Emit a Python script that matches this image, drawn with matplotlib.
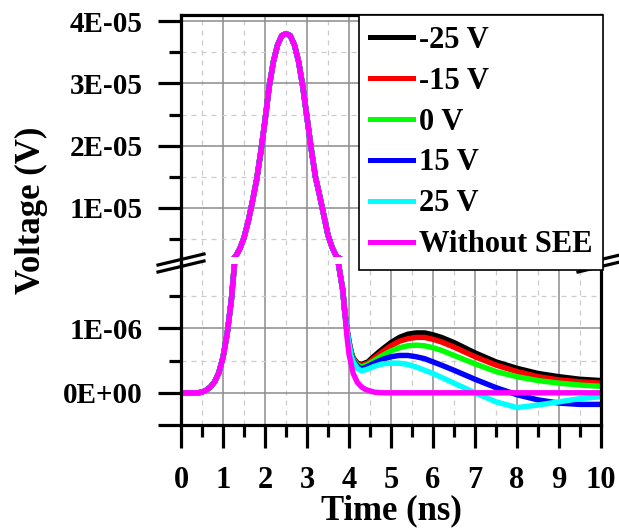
import matplotlib
matplotlib.use("Agg")
import matplotlib.pyplot as plt
from matplotlib.lines import Line2D

# ---------------- data (time in ns, voltage in V) ----------------
pulse_t = [0.0, 0.4, 0.5, 0.6, 0.7, 0.8, 0.9, 1.0, 1.1, 1.2, 1.3, 1.4, 1.5, 1.6,
           1.7, 1.8, 1.9, 2.0, 2.1, 2.2, 2.3, 2.4, 2.5, 2.6, 2.7, 2.8, 2.9, 3.0,
           3.1, 3.2, 3.3, 3.4, 3.5, 3.6, 3.7, 3.75, 3.8, 3.85, 3.9]
pulse_v = [0.0, 0.0, 0.01e-6, 0.04e-6, 0.09e-6, 0.17e-6, 0.31e-6, 0.55e-6, 0.92e-6,
           1.45e-6, 2.2e-6, 3.4e-6, 5.2e-6, 7.8e-6, 1.1e-5, 1.45e-5, 1.9e-5, 2.4e-5,
           2.95e-5, 3.35e-5, 3.62e-5, 3.77e-5, 3.8e-5, 3.77e-5, 3.62e-5, 3.35e-5,
           2.95e-5, 2.45e-5, 1.95e-5, 1.5e-5, 1.2e-5, 8.8e-6, 5.6e-6, 3.6e-6, 2.2e-6,
           2.0e-6, 1.8e-6, 1.6e-6, 1.25e-6]

# tail of the reference pulse (without SEE)
ref_tail_t = [3.95, 4.0, 4.1, 4.2, 4.3, 4.4, 4.5, 4.6, 4.8, 10.0]
ref_tail_v = [0.88e-6, 0.6e-6, 0.3e-6, 0.16e-6, 0.09e-6, 0.05e-6, 0.03e-6, 0.01e-6, 0.0, 0.0]

# tails of the SEE curves (values in microvolt units * 1e-6)
tail_t = [3.95, 4.0, 4.05, 4.1, 4.2, 4.3, 4.45, 4.6, 4.8, 5.0, 5.2, 5.4, 5.6, 5.8,
          6.0, 6.2, 6.5, 7.0, 7.5, 8.0, 8.5, 9.0, 9.5, 10.0]
tail_m25 = [1.0, 0.8, 0.64, 0.54, 0.46, 0.44, 0.48, 0.57, 0.68, 0.78, 0.86, 0.91,
            0.93, 0.93, 0.9, 0.86, 0.78, 0.62, 0.48, 0.38, 0.3, 0.25, 0.21, 0.19]
tail_m15 = [1.0, 0.79, 0.63, 0.53, 0.45, 0.42, 0.46, 0.54, 0.64, 0.73, 0.8, 0.84,
            0.86, 0.86, 0.83, 0.79, 0.71, 0.56, 0.43, 0.33, 0.25, 0.2, 0.17, 0.15]
tail_0 = [0.99, 0.78, 0.62, 0.52, 0.43, 0.40, 0.44, 0.5, 0.58, 0.65, 0.7, 0.73,
          0.74, 0.73, 0.7, 0.66, 0.58, 0.45, 0.33, 0.25, 0.19, 0.15, 0.12, 0.1]
tail_p15 = [0.98, 0.77, 0.6, 0.5, 0.41, 0.37, 0.41, 0.46, 0.52, 0.56, 0.58, 0.58,
            0.56, 0.53, 0.48, 0.43, 0.35, 0.21, 0.08, -0.03, -0.11, -0.16, -0.18, -0.18]
tail_p25 = [0.97, 0.76, 0.58, 0.48, 0.38, 0.34, 0.37, 0.41, 0.45, 0.46, 0.46, 0.44,
            0.4, 0.35, 0.3, 0.24, 0.15, 0.0, -0.14, -0.23, -0.19, -0.14, -0.09, -0.06]

labels = ["-25 V", "-15 V", "0 V", "15 V", "25 V", "Without SEE"]
colors = ["#000000", "#FF0000", "#00FF00", "#0000FF", "#00FFFF", "#FF00FF"]
tails = [tail_m25, tail_m15, tail_0, tail_p15, tail_p25]

upper_ticks = [1e-5, 2e-5, 3e-5, 4e-5]
upper_labels = ["1E-05", "2E-05", "3E-05", "4E-05"]
lower_ticks = [-0.5e-6, 0.0, 1e-6]
lower_labels = ["", "0E+00", "1E-06"]
x_ticks = list(range(0, 11))
x_labels = [str(v) for v in x_ticks]

series = []
for tl in tails:
    series.append((pulse_t + tail_t, pulse_v + [v * 1e-6 for v in tl]))
series.append((pulse_t + ref_tail_t, pulse_v + ref_tail_v))

# ---------------- figure ----------------
plt.rcParams['font.family'] = ['Liberation Serif', 'DejaVu Serif']
plt.rcParams['font.weight'] = 'bold'

W_PX, H_PX = 619, 531
fig = plt.figure(figsize=(W_PX / 100, H_PX / 100), dpi=100)

def fx(px):
    return px / W_PX

def fy(px):
    return 1 - px / H_PX

L, R = 181, 601
TOP, UB, LT, BOT = 15, 257, 264, 425

grid_major = dict(color="#8c8c8c", linewidth=1.1, linestyle="-")
grid_minor = dict(color="#cccccc", linewidth=0.9, linestyle=(0, (4, 4)))

# background axes for vertical grid lines (continuous through the break)
axbg = fig.add_axes([fx(L), fy(BOT), fx(R) - fx(L), fy(TOP) - fy(BOT)], zorder=0)
axbg.set_xlim(0, 10)
axbg.set_ylim(0, 1)
for xv in x_ticks:
    axbg.axvline(xv, **grid_major)
for xv in [i + 0.5 for i in range(10)]:
    axbg.axvline(xv, **grid_minor)
axbg.axis("off")

ax1 = fig.add_axes([fx(L), fy(UB), fx(R) - fx(L), fy(TOP) - fy(UB)], zorder=1)
ax2 = fig.add_axes([fx(L), fy(BOT), fx(R) - fx(L), fy(LT) - fy(BOT)], zorder=1)

lw_data = 3.9
for ax in (ax1, ax2):
    ax.patch.set_alpha(0)
    for (t, v), c, lab in zip(series, colors, labels):
        ax.plot(t, v, color=c, lw=lw_data, label=lab, solid_capstyle="butt")
    ax.set_xlim(0, 10)
    for s in ax.spines.values():
        s.set_linewidth(2.3)

ax1.set_ylim(0.21e-5, 4.1e-5)
ax2.set_ylim(-0.5e-6, 2.0e-6)

# horizontal grids
for yv in upper_ticks:
    ax1.axhline(yv, zorder=0.5, **grid_major)
for yv in [0.5e-5, 1.5e-5, 2.5e-5, 3.5e-5]:
    ax1.axhline(yv, zorder=0.5, **grid_minor)
for yv in [0.0, 1e-6]:
    ax2.axhline(yv, zorder=0.5, **grid_major)
for yv in [0.5e-6, 1.5e-6]:
    ax2.axhline(yv, zorder=0.5, **grid_minor)

ax1.spines["bottom"].set_visible(False)
ax2.spines["top"].set_visible(False)

# ticks
ax1.set_xticks([])
ax1.set_yticks(upper_ticks)
ax1.set_yticklabels(upper_labels)
ax1.set_yticks([0.5e-5, 1.5e-5, 2.5e-5, 3.5e-5], minor=True)
ax2.set_yticks(lower_ticks)
ax2.set_yticklabels(lower_labels)
ax2.set_yticks([0.5e-6, 1.5e-6], minor=True)
ax2.set_xticks(x_ticks)
ax2.set_xticklabels(x_labels)
ax2.set_xticks([i + 0.5 for i in range(10)], minor=True)

for ax in (ax1, ax2):
    ax.tick_params(axis="y", which="major", direction="out", length=16.5, width=2.3,
                   pad=11, labelsize=21, right=False)
    ax.tick_params(axis="y", which="minor", direction="out", length=8.5, width=2.3,
                   right=False)
ax2.tick_params(axis="x", which="major", direction="out", length=16.5, width=2.3,
                pad=13, labelsize=22, top=False)
ax2.tick_params(axis="x", which="minor", direction="out", length=8.5, width=2.3,
                top=False)
for ax in (ax1, ax2):
    for lab in ax.get_yticklabels() + ax.get_xticklabels():
        lab.set_fontweight("bold")

# spine continuation through the gap
for xp in (L, R):
    fig.add_artist(Line2D([fx(xp), fx(xp)], [fy(UB), fy(LT)], color="black",
                          lw=2.3, zorder=2))

# break marks
for xc in (L, R):
    for dy in (0, 7):
        fig.add_artist(Line2D([fx(xc - 23), fx(xc + 23)],
                              [fy(265 + dy), fy(254 + dy)],
                              color="black", lw=2.3, zorder=3))

# axis labels
fig.text(fx(31), fy(210), "Voltage (V)", rotation=90, ha="center", va="center",
         fontsize=25, fontweight="bold")
fig.text(fx(391), fy(511), "Time (ns)", ha="center", va="center",
         fontsize=25, fontweight="bold")

handles = [Line2D([], [], color=c, lw=3.6) for c in colors]
leg = fig.legend(handles, labels, loc="upper right",
                 bbox_to_anchor=(fx(603), fy(15)), frameon=True, fancybox=False,
                 framealpha=1, edgecolor="black", borderpad=0.35,
                 labelspacing=0.39, handlelength=1.4, handletextpad=0.2,
                 borderaxespad=0, prop=dict(size=22, weight="bold"))
leg.get_frame().set_linewidth(1.2)
leg.set_zorder(10)

fig.savefig("out.png", dpi=100)
